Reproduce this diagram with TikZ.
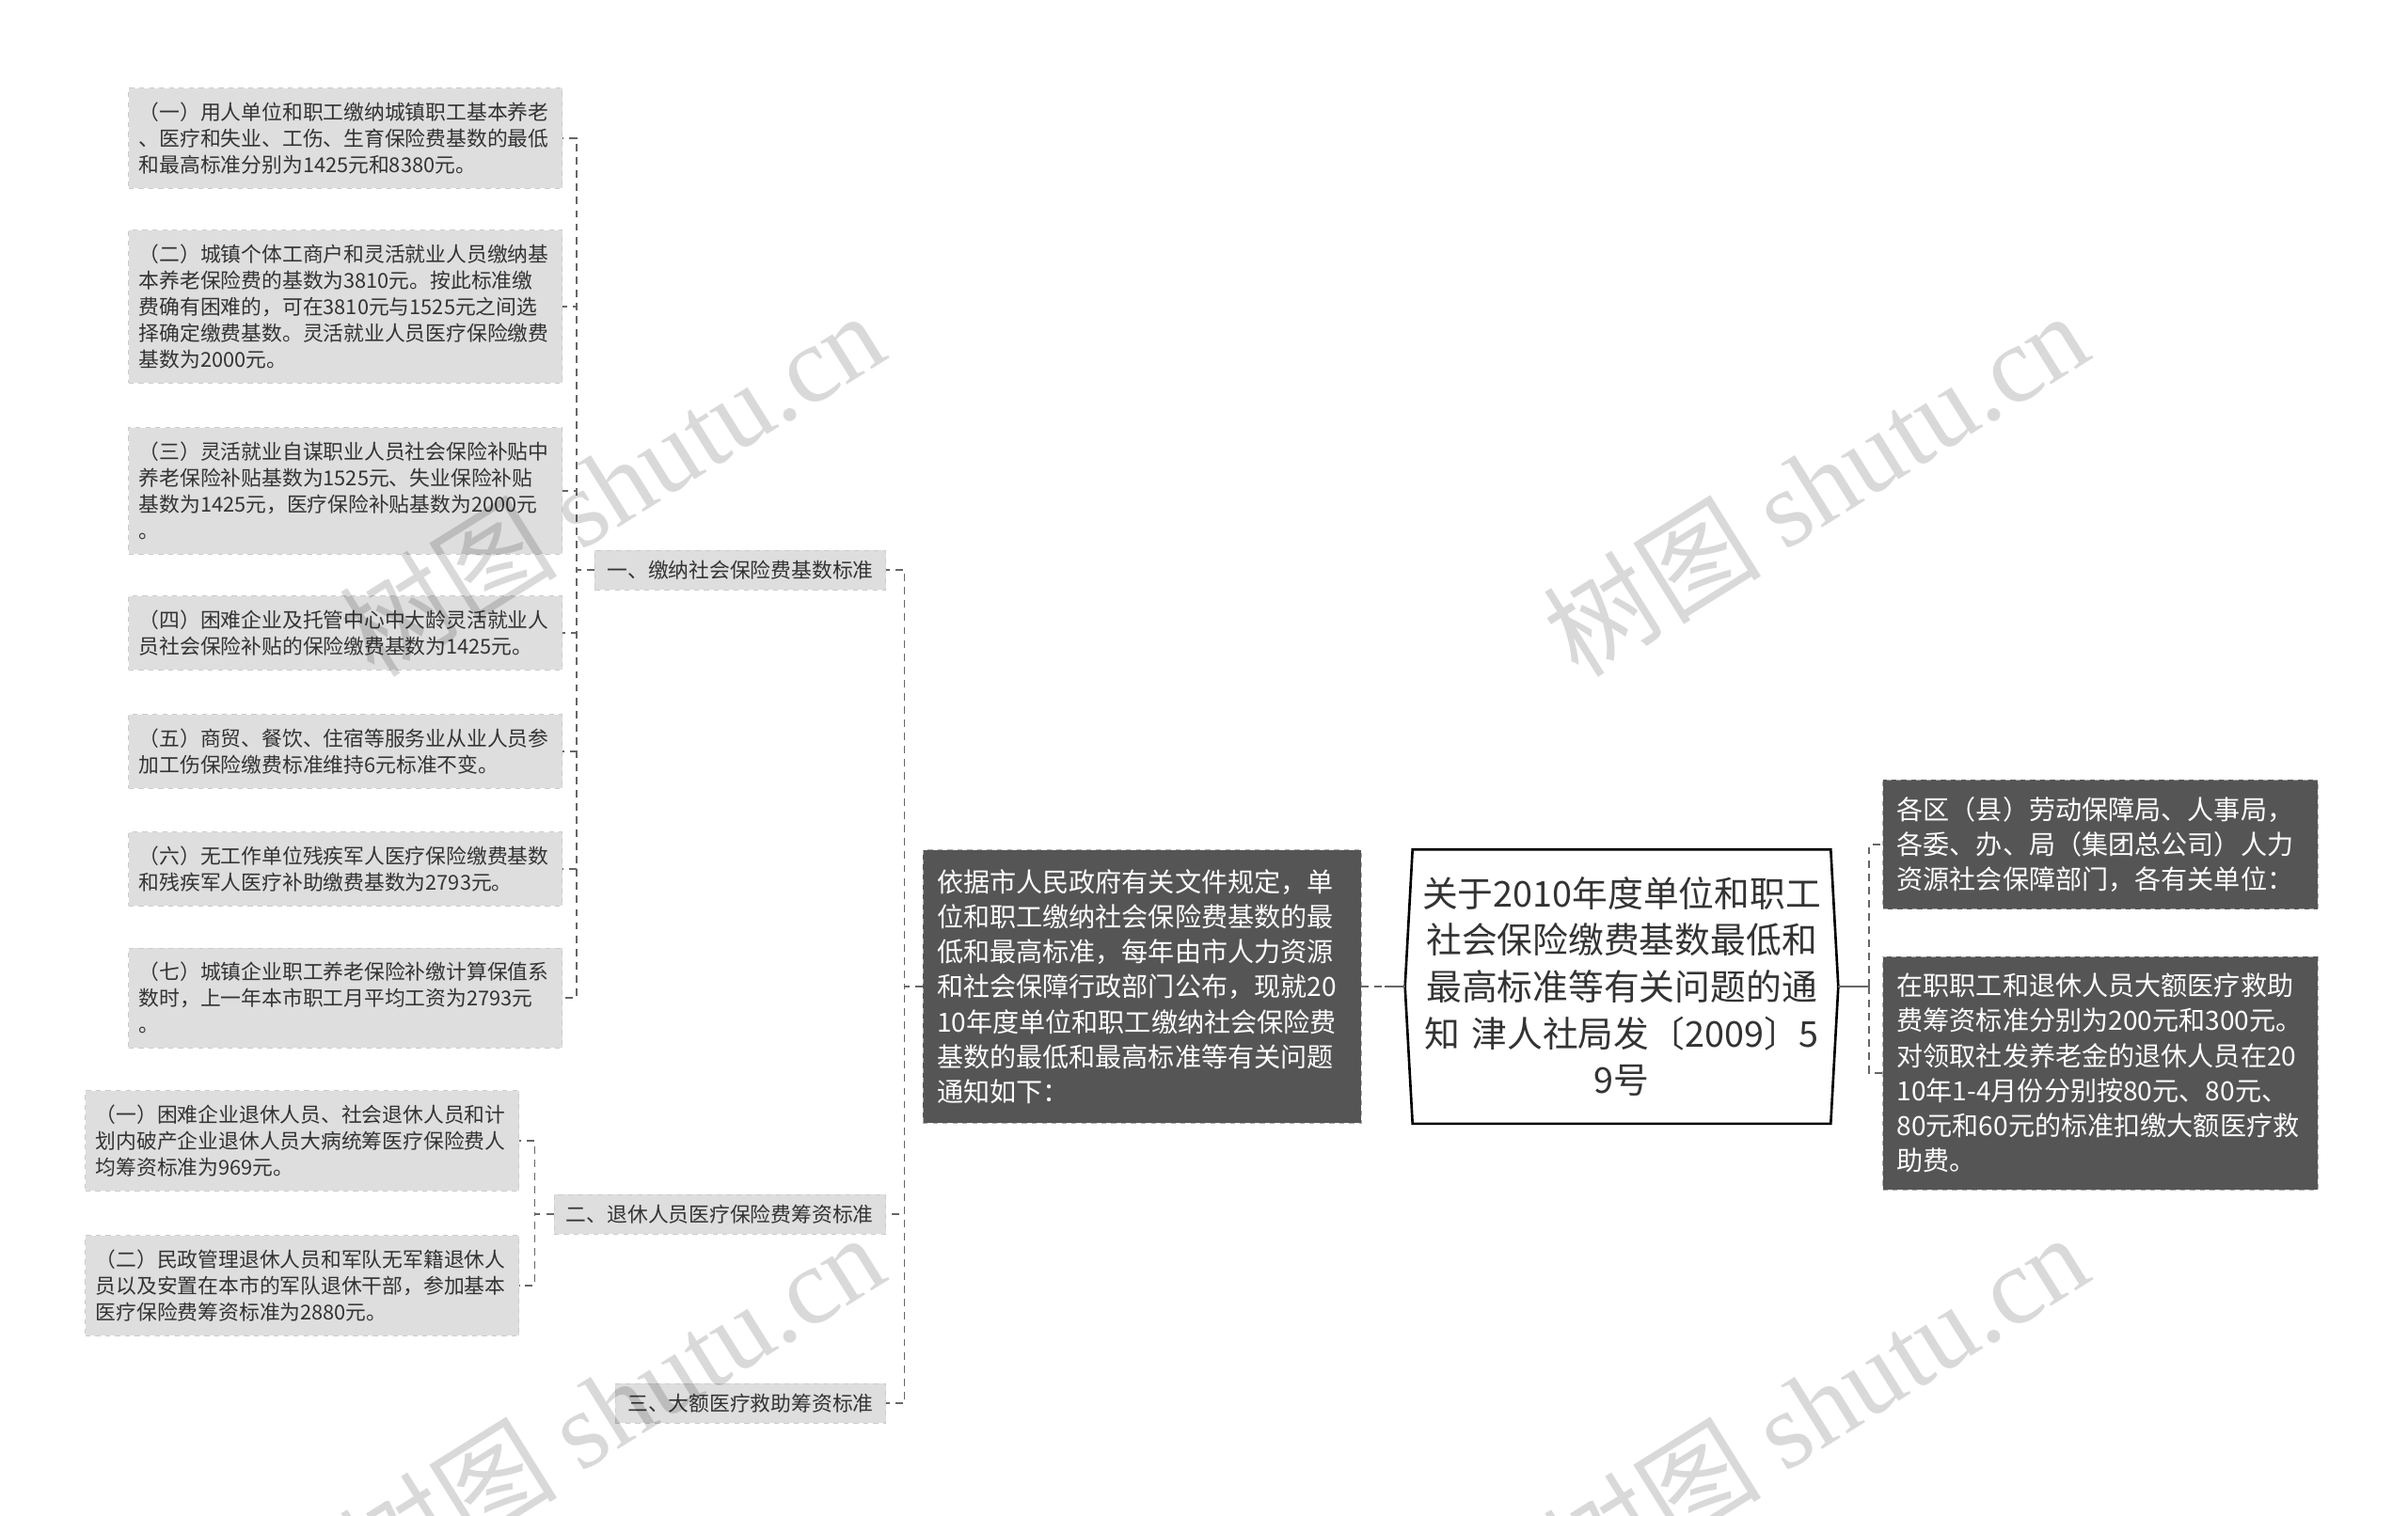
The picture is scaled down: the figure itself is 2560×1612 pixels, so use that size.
\documentclass[tikz,border=0pt]{standalone}
\usepackage{fontspec}
\setmainfont{Noto Sans CJK SC}
\newfontfamily\wmfont{Liberation Serif}
\usetikzlibrary{positioning}
\definecolor{leafgray}{HTML}{DEDEDE}
\definecolor{boxdark}{HTML}{555555}
\definecolor{linegray}{HTML}{666666}
\definecolor{textgray}{HTML}{333333}
\tikzset{
    leaf/.style={draw=gray!40, dashed, fill=leafgray, text=textgray, anchor=east,
        align=left, text width=8.78cm, inner xsep=0.22cm, inner ysep=0.3cm,
        font=\fontsize{12.4}{16}\selectfont},
    topic/.style={draw=gray!40, dashed, fill=leafgray, text=textgray, anchor=east,
        minimum height=0.84cm, inner xsep=0.26cm, font=\fontsize{12.4}{16}\selectfont},
    dark/.style={draw=gray!65, dashed, fill=boxdark, text=white, align=left,
        inner xsep=0.3cm, inner ysep=0.36cm, font=\fontsize{16}{21.2}\selectfont},
    link/.style={draw=linegray, dash pattern=on 4.5pt off 3.5pt, line width=0.9pt},
    trunk/.style={draw=linegray, line width=1.2pt},
    watermark/.style={rotate=32, text=black, opacity=0.15, font=\fontsize{66}{70}\selectfont}
}
\begin{document}
\begin{tikzpicture}[x=0.02cm, y=-0.02cm]
    \useasboundingbox (0,0) rectangle (2560,1612);

    % centre
    \node [align=center, text=textgray, minimum width=8.88cm, minimum height=5.82cm, text width=8.6cm,
        font=\fontsize{21.5}{28.3}\selectfont] (root) at (1724,1049)
        {关于2010年度单位和职工\\社会保险缴费基数最低和\\最高标准等有关问题的通\\知 津人社局发〔2009〕5\\9号};
    \draw [line width=1.5pt, black] (root.north west) -- (root.north east) -- ([xshift=0.16cm]root.east)
        -- (root.south east) -- (root.south west) -- ([xshift=-0.16cm]root.west) -- cycle;

    \node [dark, text width=8.72cm, minimum height=5.82cm] (intro) at (1214,1049)
        {依据市人民政府有关文件规定，单\\位和职工缴纳社会保险费基数的最\\低和最高标准，每年由市人力资源\\和社会保障行政部门公布，现就20\\10年度单位和职工缴纳社会保险费\\基数的最低和最高标准等有关问题\\通知如下：};

    % right side
    \node [dark, text width=8.66cm] (addr) at (2233,898)
        {各区（县）劳动保障局、人事局，\\各委、办、局（集团总公司）人力\\资源社会保障部门，各有关单位：};
    \node [dark, text width=8.66cm] (fund) at (2233,1141)
        {在职职工和退休人员大额医疗救助\\费筹资标准分别为200元和300元。\\对领取社发养老金的退休人员在20\\10年1-4月份分别按80元、80元、\\80元和60元的标准扣缴大额医疗救\\助费。};

    % topics
    \node [topic] (t1) at (942,606) {一、缴纳社会保险费基数标准};
    \node [topic] (t2) at (942,1291) {二、退休人员医疗保险费筹资标准};
    \node [topic] (t3) at (942,1492) {三、大额医疗救助筹资标准};

    % leaves of t1
    \node [leaf] (a1) at (598,147) {（一）用人单位和职工缴纳城镇职工基本养老\\、医疗和失业、工伤、生育保险费基数的最低\\和最高标准分别为1425元和8380元。};
    \node [leaf] (a2) at (598,326) {（二）城镇个体工商户和灵活就业人员缴纳基\\本养老保险费的基数为3810元。按此标准缴\\费确有困难的，可在3810元与1525元之间选\\择确定缴费基数。灵活就业人员医疗保险缴费\\基数为2000元。};
    \node [leaf] (a3) at (598,522) {（三）灵活就业自谋职业人员社会保险补贴中\\养老保险补贴基数为1525元、失业保险补贴\\基数为1425元，医疗保险补贴基数为2000元\\。};
    \node [leaf] (a4) at (598,673) {（四）困难企业及托管中心中大龄灵活就业人\\员社会保险补贴的保险缴费基数为1425元。};
    \node [leaf] (a5) at (598,799) {（五）商贸、餐饮、住宿等服务业从业人员参\\加工伤保险缴费标准维持6元标准不变。};
    \node [leaf] (a6) at (598,924) {（六）无工作单位残疾军人医疗保险缴费基数\\和残疾军人医疗补助缴费基数为2793元。};
    \node [leaf] (a7) at (598,1061) {（七）城镇企业职工养老保险补缴计算保值系\\数时，上一年本市职工月平均工资为2793元\\。};

    % leaves of t2
    \node [leaf] (b1) at (552,1213) {（一）困难企业退休人员、社会退休人员和计\\划内破产企业退休人员大病统筹医疗保险费人\\均筹资标准为969元。};
    \node [leaf] (b2) at (552,1367) {（二）民政管理退休人员和军队无军籍退休人\\员以及安置在本市的军队退休干部，参加基本\\医疗保险费筹资标准为2880元。};

    % connectors
    \coordinate (rb) at (1987,1049);
    \draw [trunk] ([xshift=0.16cm]root.east) -- (rb);
    \draw [link] (rb) |- (addr.west);
    \draw [link] (rb) |- (fund.west);
    \draw [link] (intro.east) -- ([xshift=-0.16cm]root.west);
    \draw [trunk] ([xshift=-0.16cm]root.west) -- ++(-22,0);
    \foreach \n in {t1,t2,t3}
        \draw [link] (intro.west) -- ++(-19,0) |- (\n.east);
    \foreach \n in {a1,a2,a3,a4,a5,a6,a7}
        \draw [link] (t1.west) -- ++(-19,0) |- (\n.east);
    \foreach \n in {b1,b2}
        \draw [link] (t2.west) -- ++(-20,0) |- (\n.east);

    % watermarks
    \node [watermark] (wm1) at (650,514) {树图 {\wmfont shutu.cn}};
    \node [watermark] (wm2) at (1930,514) {树图 {\wmfont shutu.cn}};
    \node [watermark] (wm3) at (650,1494) {树图 {\wmfont shutu.cn}};
    \node [watermark] (wm4) at (1930,1494) {树图 {\wmfont shutu.cn}};
\end{tikzpicture}
\end{document}
